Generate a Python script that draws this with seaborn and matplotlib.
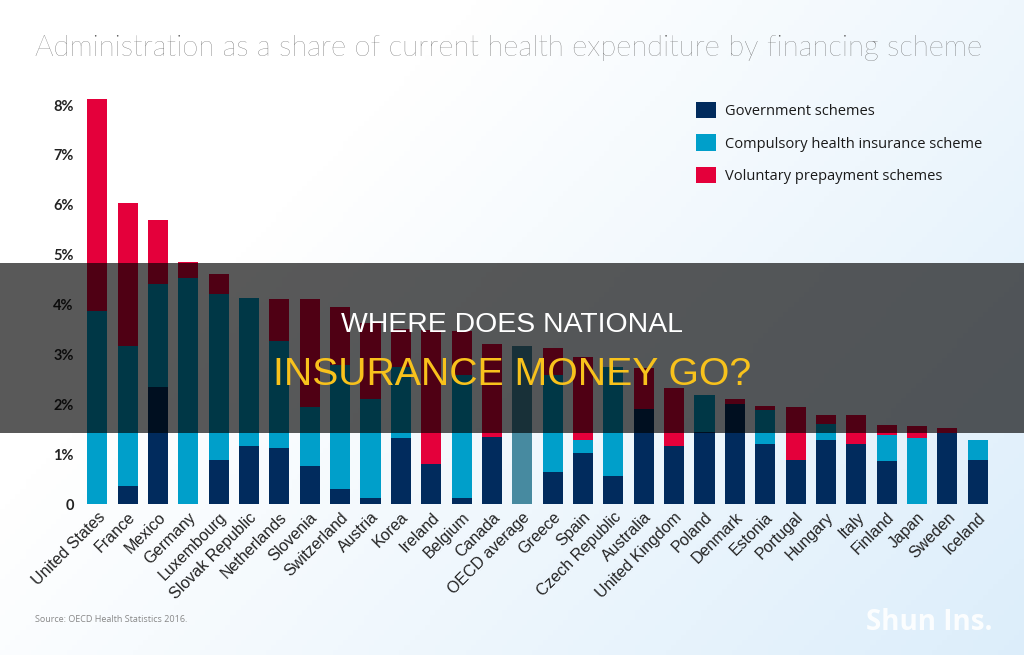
import numpy as np
import pandas as pd
import seaborn as sns
import matplotlib.pyplot as plt
from matplotlib.patches import Patch, Rectangle

# datos (% del gasto corriente en salud)
countries = ["United States", "France", "Mexico", "Germany", "Luxembourg", "Slovak Republic",
             "Netherlands", "Slovenia", "Switzerland", "Austria", "Korea", "Ireland", "Belgium",
             "Canada", "OECD average", "Greece", "Spain", "Czech Republic", "Australia",
             "United Kingdom", "Poland", "Denmark", "Estonia", "Portugal", "Hungary", "Italy",
             "Finland", "Japan", "Sweden", "Iceland"]
government = [0.00, 0.36, 2.35, 0.00, 0.89, 1.17, 1.13, 0.76, 0.31, 0.13, 1.33, 0.80, 0.12,
              1.34, 0.00, 0.64, 1.03, 0.57, 1.91, 1.17, 1.45, 2.00, 1.20, 0.89, 1.29, 1.21,
              0.87, 0.00, 1.43, 0.88]
compulsory = [3.88, 2.80, 2.06, 4.54, 3.32, 2.97, 2.14, 1.19, 2.47, 1.98, 1.41, 0.00, 2.46,
              0.00, 0.00, 1.94, 0.25, 2.18, 0.00, 0.00, 0.73, 0.00, 0.68, 0.00, 0.31, 0.00,
              0.51, 1.32, 0.00, 0.40]
voluntary = [4.25, 2.87, 1.29, 0.31, 0.41, 0.00, 0.85, 2.16, 1.18, 1.51, 0.76, 2.68, 0.89,
             1.86, 0.00, 0.54, 1.66, 0.00, 0.81, 1.16, 0.00, 0.11, 0.09, 1.05, 0.19, 0.58,
             0.21, 0.25, 0.10, 0.00]
oecd_average = 3.17

y_ticks = [0, 1, 2, 3, 4, 5, 6, 7, 8]
y_labels = ["0", "1%", "2%", "3%", "4%", "5%", "6%", "7%", "8%"]
series_names = ["Government schemes", "Compulsory health insurance scheme",
                "Voluntary prepayment schemes"]

NAVY = "#012b5d"
BLUE = "#009fca"
RED = "#e4003b"
AVG = "#478aa0"

df = pd.DataFrame({"pais": countries, "gob": government, "oblig": compulsory, "vol": voluntary})
df["g_o"] = df["gob"] + df["oblig"]
df["total"] = df["g_o"] + df["vol"]
df.loc[df["pais"] == "OECD average", "total"] = oecd_average

fig = plt.figure(figsize=(10.24, 6.55), dpi=100)

# fondo degradado blanco -> celeste
bg = fig.add_axes([0, 0, 1, 1], zorder=-5)
xx, yy = np.meshgrid(np.linspace(0, 1, 200), np.linspace(1, 0, 130))
t = np.clip(0.75 * xx + 0.45 * (1 - yy) - 0.35, 0, 1)
c0 = np.array([1.0, 1.0, 1.0])
c1 = np.array([0.84, 0.92, 0.98])
img = c0 + (c1 - c0) * t[..., None]
bg.imshow(img, aspect="auto", extent=[0, 1, 0, 1])
bg.axis("off")

ax = fig.add_axes([0.0801, 0.2305, 0.8896, 0.6244])
ax.patch.set_alpha(0)

# barras apiladas: total, luego gob+oblig, luego gob encima
pal_total = {p: (AVG if p == "OECD average" else RED) for p in countries}
sns.barplot(data=df, x="pais", y="total", hue="pais", palette=pal_total, legend=False,
            width=0.66, saturation=1, ax=ax, linewidth=0)
sns.barplot(data=df, x="pais", y="g_o", color=BLUE, width=0.66, saturation=1, ax=ax, linewidth=0)
sns.barplot(data=df, x="pais", y="gob", color=NAVY, width=0.66, saturation=1, ax=ax, linewidth=0)

ax.set_xlim(-0.5, len(countries) - 0.5)
ax.set_ylim(0, 8.2)
ax.set_yticks(y_ticks)
ax.set_yticklabels(y_labels, fontsize=10.5, color="#222222", fontfamily="Lato", fontweight="bold")
ax.set_xticks(range(len(countries)))
ax.set_xticklabels(countries, rotation=45, ha="right", rotation_mode="anchor",
                   fontsize=11.5, color="#222222", fontfamily="Liberation Sans")
ax.tick_params(axis="both", length=0)
ax.tick_params(axis="y", pad=6)
ax.tick_params(axis="x", pad=4)
ax.set_xlabel("")
ax.set_ylabel("")
for s in ax.spines.values():
    s.set_visible(False)

handles = [Patch(facecolor=NAVY), Patch(facecolor=BLUE), Patch(facecolor=RED)]
leg = ax.legend(handles, series_names, loc="upper left", bbox_to_anchor=(683 / 1024, 1 - 89 / 655),
                bbox_transform=fig.transFigure, frameon=False, handlelength=1.35, handleheight=1.35,
                labelspacing=1.05, handletextpad=0.6, prop={"family": "Open Sans", "size": 10.5})
for txt in leg.get_texts():
    txt.set_color("#1a1a1a")

fig.text(35 / 1024, 1 - 48 / 655, "Administration as a share of current health expenditure by financing scheme",
         fontsize=21.1, color="#555555", fontfamily="Lato", fontweight="light", va="center", ha="left")
fig.text(35 / 1024, 1 - 619 / 655, "Source: OECD Health Statistics 2016.", fontsize=6.5,
         color="#888888", fontfamily="Open Sans", va="center")

# franja oscura con el titular
fig.add_artist(Rectangle((0, 1 - 433 / 655), 1, 170 / 655, transform=fig.transFigure,
                         facecolor="black", alpha=0.65, edgecolor="none", zorder=5))
fig.text(0.5, 1 - 325 / 655, "WHERE DOES NATIONAL", fontsize=20.4, color="white",
         fontfamily="Liberation Sans", ha="center", va="center", zorder=6)
fig.text(0.5, 1 - 375 / 655, "INSURANCE MONEY GO?", fontsize=28.2, color="#f8c21c",
         fontfamily="Liberation Sans", ha="center", va="center", zorder=6)

fig.text(993 / 1024, 1 - 622 / 655, "Shun Ins.", fontsize=20, color="white", alpha=0.9,
         fontfamily="Open Sans", fontweight="bold", ha="right", va="center", zorder=6)

fig.savefig("out.png", dpi=100)
